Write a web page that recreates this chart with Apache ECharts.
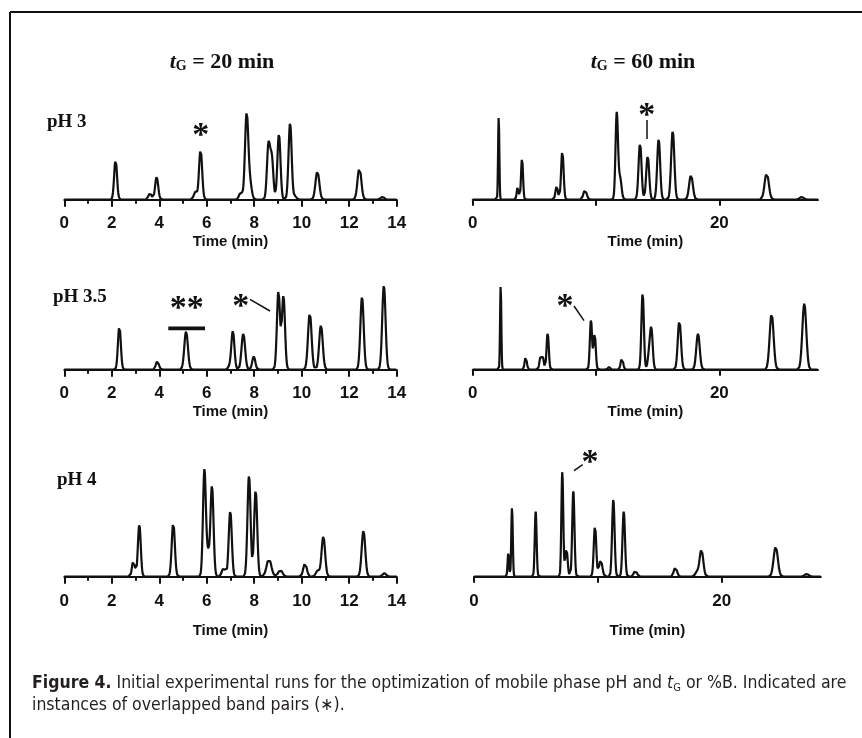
<!DOCTYPE html>
<html>
<head>
<meta charset="utf-8">
<script src="https://cdn.jsdelivr.net/npm/echarts@6/dist/echarts.min.js"></script>
<style>
html, body { margin: 0; padding: 0; background: #fff; }
#chart { width: 862px; height: 738px; }
</style>
</head>
<body>
<div id="chart"></div>
<script>
// peak tables: retention time (min), apex height (relative), peak sigma (min)
var pH3_20_t = [2.16, 3.61, 3.89, 5.52, 5.74, 7.43, 7.68, 7.83, 8.60, 8.74, 9.04, 9.51, 9.72, 10.66, 12.43, 13.40];
var pH3_20_h = [120, 20, 68, 23, 151, 23, 258, 45, 162, 122, 196, 230, 10, 85, 96, 8];
var pH3_20_w = [0.06, 0.065, 0.065, 0.065, 0.065, 0.065, 0.07, 0.07, 0.065, 0.065, 0.065, 0.065, 0.065, 0.08, 0.08, 0.08];

var pH3_60_t = [2.11, 3.65, 4.00, 6.81, 7.27, 9.11, 11.68, 11.95, 13.57, 14.19, 15.08, 16.22, 17.70, 23.84, 26.68];
var pH3_60_h = [250, 38, 123, 40, 146, 30, 258, 65, 170, 132, 182, 206, 74, 80, 8];
var pH3_60_w = [0.05, 0.08, 0.08, 0.1, 0.1, 0.13, 0.1, 0.12, 0.12, 0.12, 0.12, 0.13, 0.15, 0.17, 0.17];

var pH35_20_t = [2.32, 3.92, 5.13, 6.95, 7.10, 7.54, 7.98, 9.02, 9.23, 10.34, 10.81, 12.54, 13.46];
var pH35_20_h = [131, 25, 115, 8, 116, 108, 40, 235, 221, 170, 133, 218, 253];
var pH35_20_w = [0.06, 0.065, 0.075, 0.065, 0.065, 0.075, 0.065, 0.065, 0.065, 0.075, 0.075, 0.07, 0.07];

var pH35_60_t = [2.27, 4.30, 5.49, 5.68, 6.08, 9.59, 9.89, 11.05, 12.10, 13.78, 14.30, 14.49, 16.76, 18.27, 24.24, 26.89];
var pH35_60_h = [253, 38, 34, 36, 110, 148, 108, 8, 36, 230, 44, 118, 148, 108, 168, 198];
var pH35_60_w = [0.05, 0.09, 0.09, 0.09, 0.09, 0.09, 0.09, 0.1, 0.1, 0.1, 0.11, 0.11, 0.13, 0.14, 0.16, 0.16];

var pH4_20_t = [2.91, 3.16, 4.59, 5.90, 6.04, 6.22, 6.71, 6.99, 7.78, 8.06, 8.62, 9.10, 10.14, 10.67, 10.91, 12.60, 13.48];
var pH4_20_h = [48, 156, 162, 316, 66, 272, 26, 196, 304, 258, 53, 20, 40, 18, 120, 138, 11];
var pH4_20_w = [0.06, 0.06, 0.065, 0.06, 0.065, 0.065, 0.075, 0.065, 0.065, 0.065, 0.1, 0.09, 0.075, 0.075, 0.075, 0.075, 0.075];

var pH4_60_t = [2.77, 3.07, 4.98, 7.13, 7.46, 8.02, 9.77, 10.23, 11.25, 12.09, 13.03, 16.26, 17.98, 18.36, 24.36, 26.86];
var pH4_60_h = [70, 208, 195, 316, 85, 256, 153, 50, 231, 196, 18, 28, 13, 81, 90, 8];
var pH4_60_w = [0.06, 0.06, 0.075, 0.075, 0.1, 0.09, 0.1, 0.13, 0.1, 0.1, 0.13, 0.13, 0.13, 0.15, 0.17, 0.17];

var rowLabels = ['pH 3', 'pH 3.5', 'pH 4'];
var colLabels = ['20 min', '60 min'];
var leftRange = [0, 14];
var rightRange = [0, 28];
var rightTicks = [0, 10, 20];
var rightTickLabels = [0, 20];

// detector trace = baseline plus the listed peaks
function trace(times, heights, widths, tMax, step) {
    var pts = [];
    var n = Math.round(tMax / step);
    for (var i = 0; i <= n; i++) {
        var t = i * step, y = 0;
        for (var k = 0; k < times.length; k++) {
            var d = (t - times[k]) / widths[k];
            y += heights[k] * Math.exp(-0.5 * d * d);
        }
        pts.push([+t.toFixed(3), +y.toFixed(2)]);
    }
    return pts;
}

var chart = echarts.init(document.getElementById('chart'), null, { renderer: 'canvas' });

var black = '#111';
var sansBold = { fontFamily: 'Liberation Sans, Arial, sans-serif', fontWeight: 'bold', color: black };

// grid boxes: [left, axisY, width, yMax]
var boxes = [
    [64.3, 204, 332.4, 300], [472.7, 204, 345.3, 300],
    [64.3, 374, 332.4, 300], [472.7, 374, 345.3, 300],
    [64.3, 581, 332.4, 340], [474, 581, 346.8, 340]
];
var yMin = -13;
var nameGaps = [30, 30, 30, 30, 42, 42];
var labelMargins = [11, 11, 11, 11, 12, 12];

var traces = [
    trace(pH3_20_t, pH3_20_h, pH3_20_w, leftRange[1], 0.01),
    trace(pH3_60_t, pH3_60_h, pH3_60_w, rightRange[1], 0.02),
    trace(pH35_20_t, pH35_20_h, pH35_20_w, leftRange[1], 0.01),
    trace(pH35_60_t, pH35_60_h, pH35_60_w, rightRange[1], 0.02),
    trace(pH4_20_t, pH4_20_h, pH4_20_w, leftRange[1], 0.01),
    trace(pH4_60_t, pH4_60_h, pH4_60_w, rightRange[1], 0.02)
];

var grids = [], xAxes = [], yAxes = [], series = [];
boxes.forEach(function (b, i) {
    var h = (b[3] - yMin) / 3;
    grids.push({ left: b[0], top: b[1] - h, width: b[2], height: h, containLabel: false });
    var isLeft = i % 2 === 0;
    var ax = {
        gridIndex: i,
        type: 'value',
        min: isLeft ? leftRange[0] : rightRange[0],
        max: isLeft ? leftRange[1] : rightRange[1],
        axisLine: { lineStyle: { color: black, width: 2 } },
        axisTick: { length: 7, lineStyle: { color: black, width: 2 } },
        splitLine: { show: false },
        axisLabel: Object.assign({ margin: labelMargins[i], fontSize: 17 }, sansBold),
        name: 'Time (min)',
        nameLocation: 'middle',
        nameGap: nameGaps[i],
        nameTextStyle: Object.assign({ fontSize: 15 }, sansBold)
    };
    if (isLeft) {
        ax.interval = 2;
        ax.minorTick = { show: true, splitNumber: 2, length: 4, lineStyle: { color: black, width: 2 } };
    } else {
        ax.interval = 10;
        ax.axisTick.length = 6;
        ax.axisTick.customValues = rightTicks;
        ax.axisLabel.customValues = rightTickLabels;
    }
    xAxes.push(ax);
    yAxes.push({ gridIndex: i, type: 'value', min: yMin, max: b[3], show: false });
    series.push({
        type: 'line',
        xAxisIndex: i,
        yAxisIndex: i,
        data: traces[i],
        showSymbol: false,
        silent: true,
        lineStyle: { color: black, width: 2.2 },
        animation: false
    });
});

var serifBold = 'bold 19px "Liberation Serif", "Times New Roman", serif';

function header(x, label) {
    return {
        type: 'text', x: x, y: 62,
        style: {
            text: '{i|t}{s|G}{n| = ' + label + '}',
            align: 'center', verticalAlign: 'middle',
            rich: {
                i: { fontFamily: 'Liberation Serif', fontWeight: 'bold', fontStyle: 'italic', fontSize: 22, lineHeight: 23 },
                s: { fontFamily: 'Liberation Serif', fontWeight: 'bold', fontSize: 14, lineHeight: 10, verticalAlign: 'bottom' },
                n: { fontFamily: 'Liberation Serif', fontWeight: 'bold', fontSize: 22, lineHeight: 23 }
            },
            fill: black
        }
    };
}

function star(x, y, txt) {
    return {
        type: 'text', x: x, y: y,
        style: { text: txt || '*', font: 'bold 34px "Liberation Serif", serif', fill: black, align: 'center', verticalAlign: 'middle' }
    };
}

function seg(x1, y1, x2, y2, w) {
    return { type: 'line', shape: { x1: x1, y1: y1, x2: x2, y2: y2 }, style: { stroke: black, lineWidth: w || 1.5 } };
}

var capFont = '"Liberation Sans Narrow", "DejaVu Sans Condensed", sans-serif';

var graphics = [
    seg(10, 12, 862, 12, 2),
    seg(10, 12, 10, 738, 2),
    header(222, colLabels[0]),
    header(643, colLabels[1]),
    { type: 'text', x: 47, y: 122, style: { text: rowLabels[0], font: serifBold, fill: black, verticalAlign: 'middle' } },
    { type: 'text', x: 53, y: 297, style: { text: rowLabels[1], font: serifBold, fill: black, verticalAlign: 'middle' } },
    { type: 'text', x: 57, y: 480, style: { text: rowLabels[2], font: serifBold, fill: black, verticalAlign: 'middle' } },
    // overlapped band markers
    star(200.7, 136),
    star(646.7, 116),
    seg(647, 120, 647, 139),
    star(186.7, 309, '**'),
    seg(168.3, 328.3, 205, 328.3, 3.7),
    star(240.7, 307.5),
    seg(250, 299.3, 270, 311),
    star(565, 307.5),
    seg(574, 306, 584, 320.7),
    star(590, 463.5),
    seg(574, 470.7, 582.7, 464.7),
    {
        type: 'text', x: 32, y: 672,
        style: {
            text: '{b|Figure 4.} Initial experimental runs for the optimization of mobile phase pH and {i|t}{s|G} or %B. Indicated are\ninstances of overlapped band pairs (∗).',
            fill: '#231f20',
            fontFamily: capFont,
            fontSize: 17.5,
            lineHeight: 22,
            rich: {
                b: { fontFamily: capFont, fontWeight: 'bold', fontSize: 17.5, lineHeight: 22 },
                i: { fontFamily: capFont, fontStyle: 'italic', fontSize: 17.5, lineHeight: 22 },
                s: { fontFamily: capFont, fontSize: 11, lineHeight: 8, verticalAlign: 'bottom' }
            }
        }
    }
];

chart.setOption({
    backgroundColor: '#fff',
    animation: false,
    grid: grids,
    xAxis: xAxes,
    yAxis: yAxes,
    series: series,
    graphic: graphics
});
</script>
</body>
</html>
